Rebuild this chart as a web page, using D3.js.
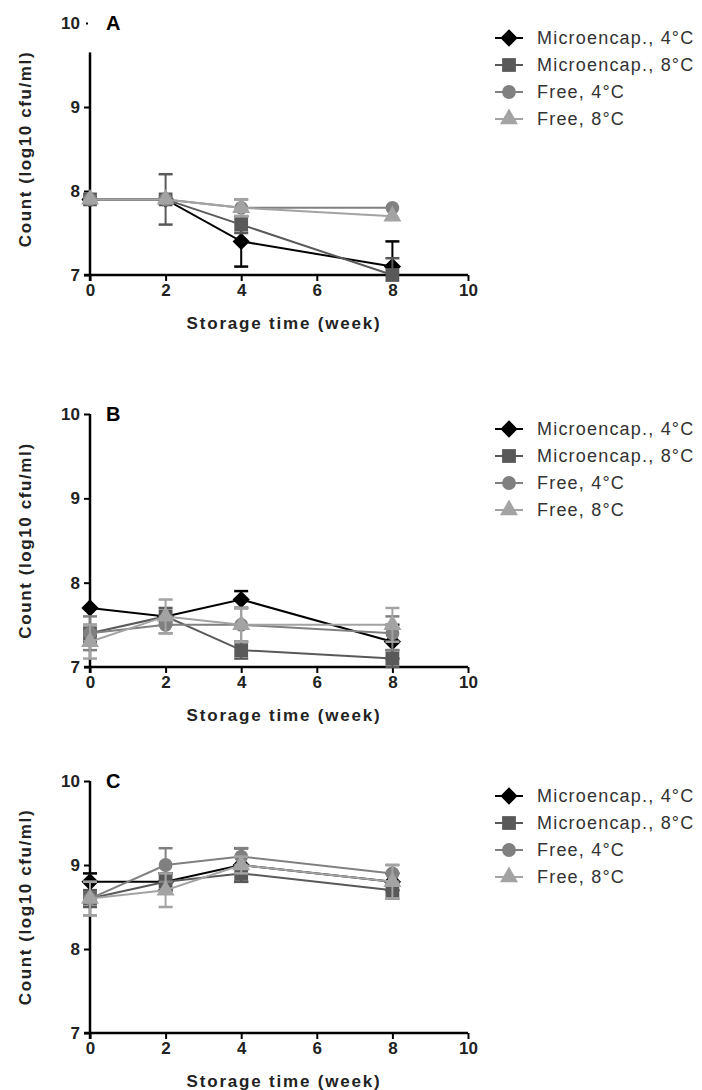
<!DOCTYPE html>
<html>
<head>
<meta charset="utf-8">
<script src="https://cdn.jsdelivr.net/npm/d3@7"></script>
<style>
  body { margin: 0; background: #fff; }
  svg { display: block; }
  .tick text { font-family: "Liberation Sans", Arial, sans-serif; font-weight: bold; font-size: 17px; fill: #222; }
</style>
</head>
<body>
<div id="chart"></div>
<script>
// storage weeks
const weeks = [0, 2, 4, 8];
const seriesNames = ["Microencap., 4°C", "Microencap., 8°C", "Free, 4°C", "Free, 8°C"];
const panelLabels = ["A", "B", "C"];
const xTicks = [0, 2, 4, 6, 8, 10];
const yTicks = [7, 8, 9, 10];

// panel A means / sd
const aMicro4 = [7.9, 7.9, 7.4, 7.1];
const aMicro8 = [7.9, 7.9, 7.6, 7.0];
const aFree4 = [7.9, 7.9, 7.8, 7.8];
const aFree8 = [7.9, 7.9, 7.8, 7.7];
const aMicro4Err = [0, 0, 0.3, 0.3];
const aMicro8Err = [0, 0.3, 0.1, 0.2];
const aFree4Err = [0, 0, 0.1, 0];
const aFree8Err = [0, 0, 0.1, 0];

// panel B
const bMicro4 = [7.7, 7.6, 7.8, 7.3];
const bMicro8 = [7.4, 7.6, 7.2, 7.1];
const bFree4 = [7.4, 7.5, 7.5, 7.4];
const bFree8 = [7.3, 7.6, 7.5, 7.5];
const bMicro4Err = [0, 0, 0.1, 0.2];
const bMicro8Err = [0.1, 0.1, 0.1, 0.1];
const bFree4Err = [0.2, 0.1, 0.2, 0.2];
const bFree8Err = [0.2, 0.2, 0.2, 0.2];

// panel C
const cMicro4 = [8.8, 8.8, 9.0, 8.8];
const cMicro8 = [8.6, 8.8, 8.9, 8.7];
const cFree4 = [8.6, 9.0, 9.1, 8.9];
const cFree8 = [8.6, 8.7, 9.0, 8.8];
const cMicro4Err = [0.1, 0.1, 0.2, 0.1];
const cMicro8Err = [0.1, 0.1, 0.1, 0.1];
const cFree4Err = [0.2, 0.2, 0.1, 0.1];
const cFree8Err = [0.2, 0.2, 0.1, 0.2];

const panels = [
    {values: [aMicro4, aMicro8, aFree4, aFree8], errs: [aMicro4Err, aMicro8Err, aFree4Err, aFree8Err]},
    {values: [bMicro4, bMicro8, bFree4, bFree8], errs: [bMicro4Err, bMicro8Err, bFree4Err, bFree8Err]},
    {values: [cMicro4, cMicro8, cFree4, cFree8], errs: [cMicro4Err, cMicro8Err, cFree4Err, cFree8Err]}
];

const colors = ["#000000", "#595959", "#808080", "#a3a3a3"];
const shapes = [d3.symbolDiamond2, d3.symbolSquare, d3.symbolCircle, d3.symbolTriangle];
const sizes = [190, 190, 150, 140];

const svg = d3.select("#chart").append("svg")
    .attr("width", 702)
    .attr("height", 1090);

const x = d3.scaleLinear().domain([0, 10]).range([90, 468]);

// y position of the "7" and "10" ticks for each panel
const panelTops = [23, 414, 781];
const panelBottoms = [275, 667, 1033];

panels.forEach((p, pi) => {
    const y = d3.scaleLinear().domain([7, 10]).range([panelBottoms[pi], panelTops[pi]]);
    const g = svg.append("g");

    // x axis
    const xAxis = g.append("g")
        .attr("transform", `translate(0,${y(7)})`)
        .call(d3.axisBottom(x).tickValues(xTicks).tickFormat(d3.format("d")).tickSize(6).tickPadding(3));
    xAxis.select(".domain").attr("stroke", "#000").attr("stroke-width", 2.5).attr("d", `M${x(0) - 6},0H${x(10)}`);
    xAxis.selectAll(".tick line").attr("stroke", "#000").attr("stroke-width", 2);

    // y axis
    const yAxis = g.append("g")
        .attr("transform", `translate(${x(0)},0)`)
        .call(d3.axisLeft(y).tickValues(yTicks).tickFormat(d3.format("d")).tickSize(6).tickPadding(4));
    yAxis.selectAll(".tick line").attr("stroke", "#000").attr("stroke-width", 2);
    yAxis.select(".domain").attr("stroke", "#000").attr("stroke-width", 2.5)
        .attr("d", pi === 0 ? `M0,${y(9.65)}V${y(7) + 6}` : `M0,${y(10)}V${y(7) + 6}`);
    if (pi === 0) {
        // the top of panel A's axis is cut off
        yAxis.selectAll(".tick").filter(d => d === 10).select("line").attr("x2", -4).attr("x1", -2);
    }

    // axis titles
    g.append("text")
        .attr("x", (x(0) + x(10)) / 2 + 5)
        .attr("y", y(7) + 54)
        .attr("text-anchor", "middle")
        .style("font-family", "Liberation Sans, Arial, sans-serif")
        .style("font-weight", "bold")
        .style("font-size", "17px")
        .style("letter-spacing", "1.8px")
        .attr("fill", "#222")
        .text("Storage time (week)");

    g.append("text")
        .attr("transform", `translate(31,${(y(7) + y(10)) / 2}) rotate(-90)`)
        .attr("text-anchor", "middle")
        .style("font-family", "Liberation Sans, Arial, sans-serif")
        .style("font-weight", "bold")
        .style("font-size", "17px")
        .style("letter-spacing", "1.6px")
        .attr("fill", "#222")
        .text("Count (log10 cfu/ml)");

    // panel letter
    g.append("text")
        .attr("x", 106)
        .attr("y", y(10) + 7)
        .style("font-family", "Liberation Sans, Arial, sans-serif")
        .style("font-weight", "bold")
        .style("font-size", "20px")
        .attr("fill", "#000")
        .text(panelLabels[pi]);

    const line = d3.line().x((d, i) => x(weeks[i])).y(d => y(d));

    p.values.forEach((vals, si) => {
        const sg = g.append("g");
        sg.append("path")
            .attr("d", line(vals))
            .attr("fill", "none")
            .attr("stroke", colors[si])
            .attr("stroke-width", 2);

        // error bars
        vals.forEach((v, i) => {
            const e = p.errs[si][i];
            if (!e) return;
            const lo = Math.max(7, v - e), hi = v + e;
            const cx = x(weeks[i]);
            sg.append("line").attr("x1", cx).attr("x2", cx).attr("y1", y(lo)).attr("y2", y(hi))
                .attr("stroke", colors[si]).attr("stroke-width", 2);
            [hi, v - e].forEach(c => {
                if (c < 7) return;
                sg.append("line").attr("x1", cx - 7).attr("x2", cx + 7).attr("y1", y(c)).attr("y2", y(c))
                    .attr("stroke", colors[si]).attr("stroke-width", 2.5);
            });
        });

        sg.selectAll(".pt")
            .data(vals)
            .enter().append("path")
            .attr("transform", (d, i) => `translate(${x(weeks[i])},${y(d)})`)
            .attr("d", d3.symbol().type(shapes[si]).size(sizes[si]))
            .attr("fill", colors[si]);
    });

    // legend
    const leg = g.append("g");
    seriesNames.forEach((name, si) => {
        const ly = y(10) + 15 + si * 27;
        leg.append("line").attr("x1", 495).attr("x2", 523).attr("y1", ly).attr("y2", ly)
            .attr("stroke", colors[si]).attr("stroke-width", 2);
        leg.append("path")
            .attr("transform", `translate(509,${ly})`)
            .attr("d", d3.symbol().type(shapes[si]).size(sizes[si]))
            .attr("fill", colors[si]);
        leg.append("text")
            .attr("x", 537)
            .attr("y", ly + 6)
            .style("font-family", "Liberation Sans, Arial, sans-serif")
            .style("font-size", "18px")
            .style("letter-spacing", "1.2px")
            .attr("fill", "#333")
            .text(name);
    });
});
</script>
</body>
</html>
